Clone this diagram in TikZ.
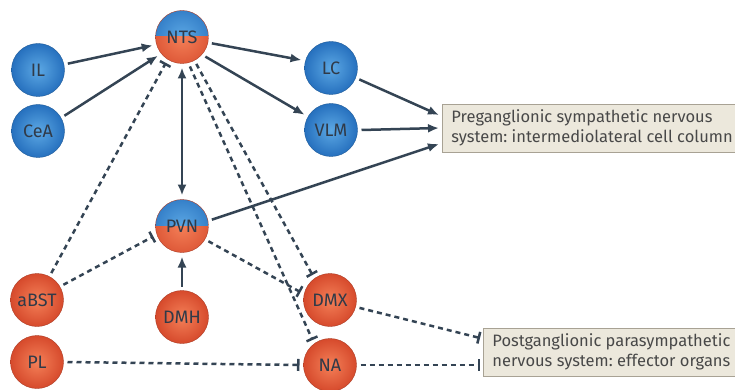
\documentclass[tikz,border=0pt]{standalone}
\usepackage{fontspec}
\setmainfont{Fira Sans}
\usetikzlibrary{arrows.meta,calc}
\definecolor{blueI}{RGB}{92,168,228}
\definecolor{blueO}{RGB}{38,112,190}
\definecolor{redI}{RGB}{244,128,88}
\definecolor{redO}{RGB}{214,74,44}
\definecolor{lineC}{RGB}{52,68,84}
\definecolor{txtC}{RGB}{48,58,72}
\definecolor{boxF}{RGB}{236,232,220}
\definecolor{boxD}{RGB}{168,162,148}
\definecolor{boxT}{RGB}{72,72,72}
\tikzset{
  ball/.style={circle, minimum size=53pt, inner sep=0pt, outer sep=4pt,
    font=\fontsize{18}{20}\selectfont, text=txtC},
  blueball/.style={ball, shading=radial, inner color=blueI, outer color=blueO, draw=blueO!80!black, line width=0.4pt},
  redball/.style={ball, shading=radial, inner color=redI, outer color=redO, draw=redO!80!black, line width=0.4pt},
  mixball/.style={ball, draw=redO!80!black, line width=0.4pt,
    path picture={
      \begin{scope}
        \clip (path picture bounding box.north west) rectangle (path picture bounding box.east);
        \shade[inner color=blueI, outer color=blueO] (path picture bounding box.center) circle (37pt);
      \end{scope}
      \begin{scope}
        \clip (path picture bounding box.west) rectangle (path picture bounding box.south east);
        \shade[inner color=redI, outer color=redO] (path picture bounding box.center) circle (37pt);
      \end{scope}
    }},
  infobox/.style={rectangle, fill=boxF, draw=boxD, line width=0.8pt, anchor=west,
    minimum height=48pt, inner xsep=9pt, align=left, text=boxT,
    font=\fontsize{16.5}{20}\selectfont},
  excit/.style={draw=lineC, line width=2.5pt, -{Latex[length=11pt,width=9pt]}},
  inhib/.style={draw=lineC, line width=2.5pt, dash pattern=on 5pt off 4pt, -{Bar[width=12pt,line width=2.5pt]}}
}
\begin{document}
\frenchspacing
\begin{tikzpicture}[x=1pt,y=-1pt]
\useasboundingbox (0,0) rectangle (735,390);
\node[blueball] (IL)  at (38,70)  {IL};
\node[blueball] (CeA) at (38,131) {CeA};
\node[mixball]  (NTS) at (182,37) {NTS};
\node[blueball] (LC)  at (331,68) {LC};
\node[blueball] (VLM) at (331,130) {VLM};
\node[mixball]  (PVN) at (182,226) {PVN};
\node[redball]  (aBST) at (37,300) {aBST};
\node[redball]  (DMH) at (182,317) {DMH};
\node[redball]  (DMX) at (330,300) {DMX};
\node[redball]  (PL)  at (37,362) {PL};
\node[redball]  (NA)  at (330,365) {NA};
\node[infobox, minimum width=292pt] (B1) at (442,128)
  {Preganglionic sympathetic nervous\\system: intermediolateral cell column};
\node[infobox, minimum width=251pt] (B2) at (483,352)
  {Postganglionic parasympathetic\\nervous system: effector organs};
\coordinate (B1a) at ($(B1.west)+(-3,-13)$);
\coordinate (B1b) at ($(B1.west)+(-3,0)$);
\coordinate (B1c) at ($(B1.west)+(-3,16)$);
\coordinate (B2a) at ($(B2.west)+(-3,-14)$);
\coordinate (B2b) at ($(B2.west)+(-3,13)$);
% excitatory
\draw[excit] (IL.12) -- (NTS.196);
\draw[excit] (CeA.30) -- (NTS.218);
\draw[excit] (NTS.-12) -- (LC.165);
\draw[excit] (NTS.-40) -- (VLM.150);
\draw[excit] (LC.-22) -- (B1a);
\draw[excit] (VLM.0) -- (B1b);
\draw[excit] (PVN.12) -- (B1c);
\draw[excit, {Latex[length=11pt,width=9pt]}-{Latex[length=11pt,width=9pt]}] (NTS.south) -- (PVN.north);
\draw[excit] (DMH.north) -- (PVN.south);
% inhibitory
\draw[inhib] (aBST.62) -- (NTS.238);
\draw[inhib] (aBST.30) -- (PVN.200);
\draw[inhib] (PVN.-30) -- (DMX.165);
\draw[inhib] (NTS.-62) -- (DMX.125);
\draw[inhib] (NTS.-75) -- (NA.125);
\draw[inhib] (PL.0) -- (NA.180);
\draw[inhib] (DMX.-15) -- (B2a);
\draw[inhib] (NA.0) -- (B2b);
\end{tikzpicture}
\end{document}
